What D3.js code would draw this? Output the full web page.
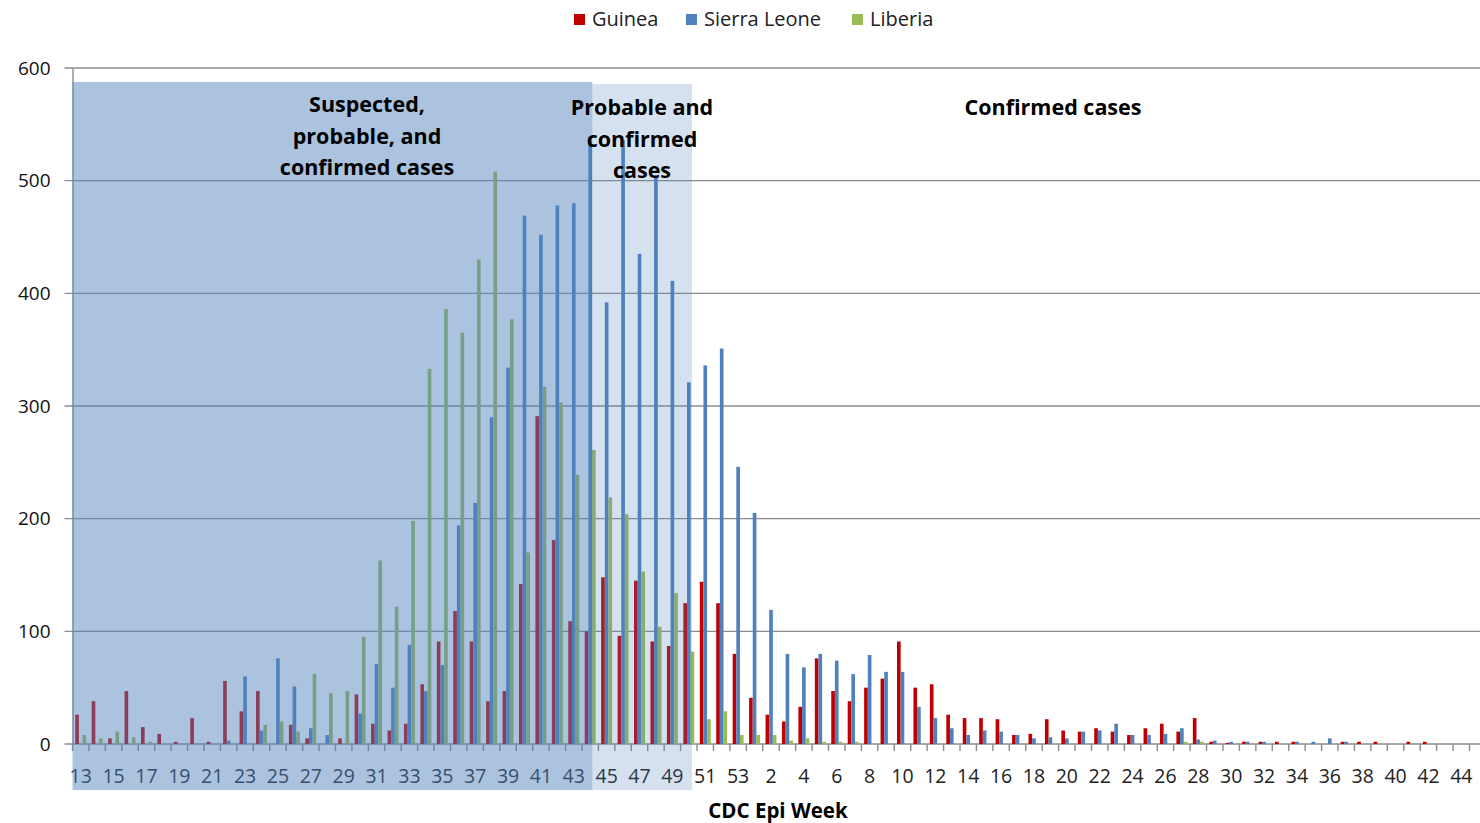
<!DOCTYPE html>
<html>
<head>
<meta charset="utf-8">
<script src="https://cdn.jsdelivr.net/npm/d3@7"></script>
<style>
  body { margin: 0; background: #fff; }
  svg text { font-family: "Open Sans", Lato, sans-serif; }
</style>
</head>
<body>
<svg id="chart" width="1480" height="823"></svg>
<script>
// CDC epi weeks: 13..53 of 2014, then 1..44 of 2015
const weeks = [13,14,15,16,17,18,19,20,21,22,23,24,25,26,27,28,29,30,31,32,33,34,35,36,37,38,39,40,41,42,43,44,45,46,47,48,49,50,51,52,53,
  1,2,3,4,5,6,7,8,9,10,11,12,13,14,15,16,17,18,19,20,21,22,23,24,25,26,27,28,29,30,31,32,33,34,35,36,37,38,39,40,41,42,43,44];

const guinea = [26,38,5,47,15,9,2,23,2,56,29,47,0,17,5,0,5,44,18,12,18,53,91,118,91,38,47,142,291,181,109,100,148,96,145,91,87,125,144,125,80,
  41,26,20,33,76,47,38,50,58,91,50,53,26,23,23,22,8,9,22,12,11,14,11,8,14,18,11,23,2,1,2,2,2,2,0,0,2,2,2,0,2,2,0,0];

const sierraLeone = [0,0,0,0,0,0,0,0,0,3,60,12,76,51,14,8,0,27,71,50,88,47,70,194,214,290,334,469,452,478,480,538,392,536,435,504,411,321,336,351,246,
  205,119,80,68,80,74,62,79,64,64,33,23,14,8,12,11,8,5,6,5,11,12,18,8,8,9,14,4,3,2,2,2,0,2,2,5,2,0,0,0,0,0,0,0];

const liberia = [8,5,11,6,2,0,0,0,0,0,0,17,20,11,62,45,47,95,163,122,198,333,386,365,430,508,377,170,317,303,239,261,219,204,153,104,134,82,22,29,8,
  8,8,3,5,2,2,2,0,0,0,0,0,0,0,0,0,0,0,0,0,0,0,0,0,0,0,2,2,0,0,0,0,0,0,0,0,0,0,0,0,0,0,0,0];

const seriesNames = ["Guinea", "Sierra Leone", "Liberia"];
const seriesColors = ["#C00000", "#4F81BD", "#9BBB59"];
const yTicks = [0, 100, 200, 300, 400, 500, 600];

// unique keys, the week numbers repeat over the two years
const keys = weeks.map((w, i) => (i < 41 ? "2014-" : "2015-") + w);
const rows = keys.map((k, i) => ({key: k, week: weeks[i], values: [guinea[i], sierraLeone[i], liberia[i]]}));

const svg = d3.select("#chart");
const margin = {left: 72.5, right: 10.5, top: 68, bottom: 79};
const width = 1480, height = 823;

const xScale = d3.scaleBand().domain(keys).range([margin.left, width - margin.right]).padding(0);
const inner = d3.scaleBand().domain(seriesNames).range([0, xScale.bandwidth()]).paddingInner(0).paddingOuter(0.75);
const yScale = d3.scaleLinear().domain([0, 600]).range([height - margin.bottom, margin.top]);

// grid lines
svg.append("g")
  .selectAll("line")
  .data(yTicks)
  .join("line")
  .attr("x1", margin.left - 8)
  .attr("x2", width)
  .attr("y1", d => yScale(d))
  .attr("y2", d => yScale(d))
  .attr("stroke", "#8c8c8c")
  .attr("stroke-width", 1.4);

// y axis
const yAxis = d3.axisLeft(yScale).tickValues(yTicks).tickSize(0).tickPadding(22);
svg.append("g")
  .attr("transform", `translate(${margin.left},0)`)
  .call(yAxis)
  .call(g => g.select(".domain").attr("stroke", "#8c8c8c").attr("stroke-width", 1.4))
  .call(g => g.selectAll("text").attr("font-size", 19).attr("font-family", "Open Sans").attr("fill", "#111"));

// x axis, ticks sit on the category boundaries
const y0 = yScale(0);
svg.append("g")
  .selectAll("line")
  .data(keys.concat(["end"]))
  .join("line")
  .attr("x1", (d, i) => i < keys.length ? xScale(d) : xScale.range()[1])
  .attr("x2", (d, i) => i < keys.length ? xScale(d) : xScale.range()[1])
  .attr("y1", y0)
  .attr("y2", y0 + 7)
  .attr("stroke", "#8c8c8c")
  .attr("stroke-width", 1.4);

svg.append("g")
  .selectAll("text")
  .data(rows.filter((d, i) => i % 2 === 0))
  .join("text")
  .attr("x", d => xScale(d.key) + xScale.bandwidth() / 2)
  .attr("y", y0 + 39)
  .attr("text-anchor", "middle")
  .attr("font-size", 19.5)
  .attr("fill", "#222")
  .text(d => d.week);

// bars
svg.append("g")
  .selectAll("g")
  .data(rows)
  .join("g")
  .attr("transform", d => `translate(${xScale(d.key)},0)`)
  .selectAll("rect")
  .data(d => d.values.map((v, j) => ({name: seriesNames[j], value: v, color: seriesColors[j]})))
  .join("rect")
  .attr("x", d => inner(d.name))
  .attr("width", inner.bandwidth())
  .attr("y", d => yScale(d.value))
  .attr("height", d => y0 - yScale(d.value))
  .attr("fill", d => d.color);

// shaded periods drawn over the bars (edges sit a little left of the week boundary)
const k45 = keys[32], k51 = keys[38];
const cut1 = xScale(k45) - 6, cut2 = xScale(k51) - 5;
svg.append("rect")
  .attr("x", xScale(keys[0]))
  .attr("y", 82)
  .attr("width", cut1 - xScale(keys[0]))
  .attr("height", 790 - 82)
  .attr("fill", "#4F81BD")
  .attr("opacity", 0.48);
svg.append("rect")
  .attr("x", cut1)
  .attr("y", 84)
  .attr("width", cut2 - cut1)
  .attr("height", 790 - 84)
  .attr("fill", "#4F81BD")
  .attr("opacity", 0.24);

// period labels
const notes = [
  {lines: ["Suspected,", "probable, and", "confirmed cases"], x: 367, y: 112},
  {lines: ["Probable and", "confirmed", "cases"], x: 642, y: 115},
  {lines: ["Confirmed cases"], x: 1053, y: 115}
];
notes.forEach(n => {
  svg.append("text")
    .attr("x", n.x)
    .attr("y", n.y)
    .attr("text-anchor", "middle")
    .attr("font-size", 21.5)
    .attr("font-weight", "bold")
    .attr("fill", "#000")
    .selectAll("tspan")
    .data(n.lines)
    .join("tspan")
    .attr("x", n.x)
    .attr("dy", (d, i) => i === 0 ? 0 : 31.5)
    .text(d => d);
});

// x axis title
svg.append("text")
  .attr("x", 778)
  .attr("y", 818)
  .attr("text-anchor", "middle")
  .attr("font-size", 20.5)
  .attr("font-weight", "bold")
  .text("CDC Epi Week");

// legend
const legendX = [574, 686, 852];
const legend = svg.append("g")
  .selectAll("g")
  .data(seriesNames)
  .join("g")
  .attr("transform", (d, i) => `translate(${legendX[i]},14)`);
legend.append("rect")
  .attr("width", 11)
  .attr("height", 11)
  .attr("fill", (d, i) => seriesColors[i]);
legend.append("text")
  .attr("x", 18)
  .attr("y", 12)
  .attr("font-size", 20)
  .attr("fill", "#222")
  .text(d => d);
</script>
</body>
</html>
